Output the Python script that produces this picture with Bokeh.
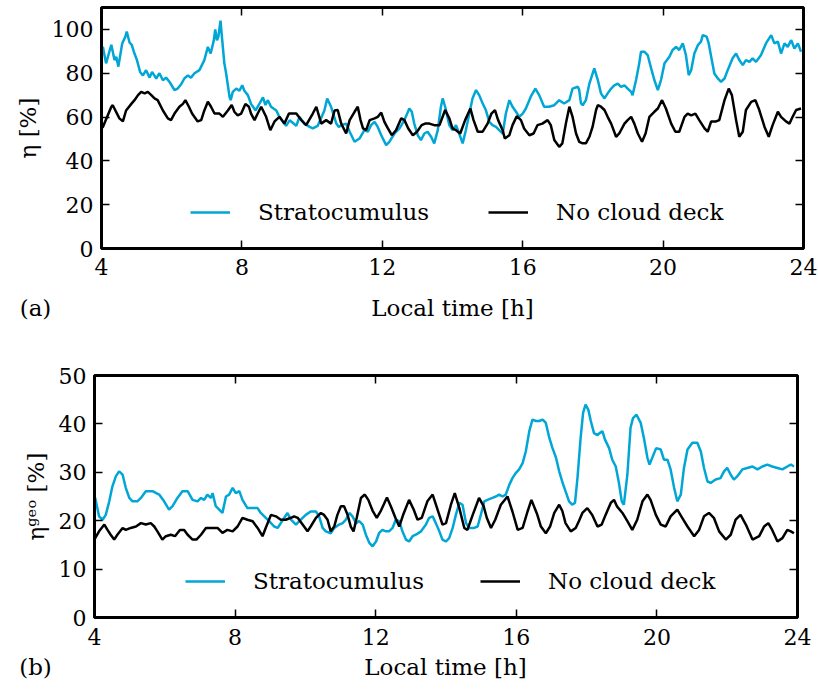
from bokeh.plotting import figure
from bokeh.models import LinearAxis, FixedTicker, Legend, LegendItem, Label, Range1d
from bokeh.layouts import column
from bokeh.embed import file_html
from bokeh.resources import INLINE

# ---------------- data ----------------
x_ticks = [4, 8, 12, 16, 20, 24]
eta_ticks = [0, 20, 40, 60, 80, 100]
geo_ticks = [0, 10, 20, 30, 40, 50]
series_labels = ["Stratocumulus", "No cloud deck"]
x_label = "Local time [h]"

# (a) efficiency eta [%], stratocumulus case
t_sc_a = [4.00, 4.04, 4.13, 4.28, 4.37, 4.42, 4.48, 4.59, 4.68, 4.72, 4.80, 4.86, 4.94, 5.01, 5.10,
          5.18, 5.27, 5.37, 5.44, 5.56, 5.65, 5.75, 5.84, 5.94, 6.08, 6.17, 6.27, 6.36, 6.46, 6.55,
          6.65, 6.79, 6.93, 7.03, 7.11, 7.20, 7.24, 7.29, 7.33, 7.39, 7.44, 7.50, 7.55, 7.65, 7.68,
          7.74, 7.84, 7.93, 8.01, 8.07, 8.17, 8.26, 8.39, 8.48, 8.60, 8.67, 8.74, 8.83, 8.98, 9.07,
          9.26, 9.36, 9.55, 9.64, 9.78, 9.93, 10.02, 10.16, 10.35, 10.43, 10.54, 10.69, 10.76, 10.83,
          10.97, 11.07, 11.21, 11.35, 11.49, 11.59, 11.68, 11.78, 11.87, 11.97, 12.11, 12.20, 12.35,
          12.49, 12.63, 12.77, 12.84, 12.91, 13.01, 13.10, 13.20, 13.29, 13.39, 13.48, 13.58, 13.67,
          13.72, 13.79, 13.91, 14.00, 14.10, 14.19, 14.29, 14.38, 14.48, 14.57, 14.67, 14.76, 14.86,
          14.95, 15.05, 15.14, 15.24, 15.33, 15.43, 15.52, 15.62, 15.71, 15.81, 15.90, 16.00, 16.09,
          16.23, 16.36, 16.47, 16.61, 16.75, 16.90, 17.04, 17.18, 17.33, 17.42, 17.57, 17.61, 17.66,
          17.71, 17.80, 17.90, 18.04, 18.14, 18.23, 18.33, 18.42, 18.52, 18.61, 18.71, 18.80, 18.90,
          18.99, 19.09, 19.13, 19.23, 19.32, 19.37, 19.47, 19.56, 19.66, 19.75, 19.85, 19.94, 20.04,
          20.18, 20.27, 20.37, 20.46, 20.56, 20.65, 20.73, 20.80, 20.89, 20.99, 21.08, 21.13, 21.24,
          21.30, 21.37, 21.46, 21.56, 21.65, 21.75, 21.84, 21.98, 22.08, 22.17, 22.27, 22.36, 22.46,
          22.55, 22.65, 22.79, 22.93, 23.08, 23.17, 23.27, 23.36, 23.46, 23.55, 23.65, 23.74, 23.84,
          23.93]
eta_sc = [91.0, 92.0, 84.5, 93.0, 86.0, 87.5, 83.0, 93.6, 96.7, 99.0, 94.0, 93.0, 89.0, 86.0, 80.6,
          79.0, 81.4, 78.0, 80.6, 77.6, 80.0, 76.8, 78.0, 76.0, 72.3, 73.0, 75.0, 77.6, 79.0, 78.0,
          80.0, 81.4, 86.0, 92.0, 89.0, 95.0, 100.0, 95.0, 96.7, 104.0, 95.0, 84.5, 80.0, 69.0, 67.7,
          71.5, 73.0, 72.0, 74.5, 72.0, 70.0, 66.0, 63.0, 65.5, 69.0, 65.5, 67.7, 64.7, 63.0, 60.0,
          56.0, 58.5, 56.0, 60.0, 57.0, 55.5, 54.8, 56.0, 63.0, 68.5, 64.7, 57.0, 55.5, 56.3,
          57.0, 53.3, 48.7, 50.2, 54.0, 53.3, 56.3, 57.8, 55.5, 51.7, 47.2, 48.7, 52.5,
          54.8, 58.6, 63.9, 62.4, 57.0, 51.7, 49.5, 52.5, 53.3, 51.0, 48.0, 54.0, 64.7,
          68.5, 64.7, 56.3, 54.0, 56.3, 52.5, 48.0, 54.0, 61.6, 68.5, 72.3, 70.0, 66.2,
          63.2, 57.8, 56.3, 55.5, 54.0, 52.5, 61.6, 67.7, 64.7, 62.4, 60.1, 61.6, 63.9,
          69.3, 73.0, 70.0, 64.7, 64.7, 65.4, 67.7, 66.2, 67.7, 73.0, 73.8, 72.3, 66.2,
          65.4, 67.7, 75.3, 82.2, 76.9, 70.8, 68.5, 70.8, 73.0, 74.5, 75.3, 73.8, 74.5,
          73.0, 71.5, 70.0, 76.9, 84.5, 89.8, 89.8, 88.3, 82.2, 76.9, 72.3, 76.9, 84.5,
          87.5, 90.6, 92.0, 90.6, 93.6, 88.3, 79.1, 81.4, 89.0, 92.8, 94.4, 97.4, 96.7,
          93.6, 87.5, 79.9, 77.6, 76.1, 77.6, 81.4, 86.8, 89.0, 86.0, 83.7, 86.0, 85.2,
          86.8, 85.2, 88.3, 93.6, 97.4, 93.6, 94.4, 89.0, 93.6, 92.0, 95.1, 91.3, 93.6,
          89.8]

# (a) efficiency eta [%], no cloud deck
t_nc_a = [4.00, 4.04, 4.28, 4.32, 4.51, 4.61, 4.70, 4.85, 4.94, 5.04, 5.13, 5.23, 5.32, 5.42, 5.51,
          5.60, 5.75, 5.89, 5.98, 6.08, 6.22, 6.32, 6.39, 6.49, 6.58, 6.74, 6.84, 6.93, 7.03, 7.12,
          7.22, 7.36, 7.46, 7.60, 7.71, 7.79, 7.88, 7.98, 8.10, 8.20, 8.26, 8.36, 8.45, 8.55, 8.69,
          8.81, 8.93, 9.07, 9.21, 9.34, 9.55, 9.69, 9.83, 10.02, 10.12, 10.26, 10.40, 10.54, 10.64,
          10.73, 10.83, 10.97, 11.07, 11.21, 11.30, 11.38, 11.45, 11.54, 11.64, 11.78, 11.87, 11.97,
          12.06, 12.16, 12.27, 12.39, 12.54, 12.63, 12.74, 12.87, 12.99, 13.12, 13.22, 13.34, 13.48,
          13.63, 13.79, 13.91, 14.00, 14.10, 14.22, 14.36, 14.51, 14.60, 14.72, 14.86, 15.00, 15.11,
          15.21, 15.30, 15.43, 15.49, 15.62, 15.71, 15.83, 15.95, 16.04, 16.19, 16.31, 16.42, 16.56,
          16.71, 16.80, 16.90, 17.04, 17.13, 17.23, 17.33, 17.42, 17.52, 17.61, 17.71, 17.80, 17.90,
          17.99, 18.09, 18.14, 18.23, 18.33, 18.42, 18.52, 18.66, 18.75, 18.90, 18.99, 19.09, 19.18,
          19.28, 19.40, 19.50, 19.61, 19.75, 19.85, 19.97, 20.08, 20.23, 20.35, 20.46, 20.61, 20.70,
          20.80, 20.92, 21.03, 21.18, 21.27, 21.37, 21.51, 21.60, 21.75, 21.87, 21.96, 22.08, 22.17,
          22.27, 22.36, 22.51, 22.63, 22.74, 22.89, 23.01, 23.12, 23.27, 23.36, 23.50, 23.60, 23.69,
          23.79, 23.93]
eta_nc = [55.0, 55.5, 64.7, 65.4, 59.4, 58.0, 63.0, 66.0, 67.7, 70.0, 71.5, 70.8, 71.5, 70.0, 68.5,
          67.7, 63.0, 59.4, 58.6, 61.6, 64.7, 66.0, 67.7, 64.7, 61.6, 58.0, 58.6, 63.0, 67.0, 64.7,
          61.6, 61.6, 60.1, 63.0, 65.5, 62.3, 60.8, 61.6, 66.0, 64.7, 61.6, 58.6, 61.6, 64.7, 60.1,
          54.0, 58.0, 60.1, 57.0, 61.6, 61.6, 58.6, 56.3, 61.6, 64.7, 57.0, 58.6, 57.0, 63.0,
          63.2, 57.0, 52.5, 58.6, 62.4, 64.7, 58.6, 54.8, 54.0, 58.6, 59.4, 60.1, 62.0,
          57.8, 54.8, 51.7, 54.0, 59.4, 58.6, 54.8, 51.7, 53.3, 56.3, 57.0, 57.0, 56.3,
          56.3, 63.2, 59.4, 54.8, 54.0, 52.5, 58.6, 63.9, 58.6, 53.3, 53.3, 57.0, 61.6,
          63.2, 58.6, 54.0, 50.2, 51.7, 56.3, 60.4, 58.6, 54.8, 51.7, 52.5, 56.3, 57.0,
          58.6, 56.3, 49.5, 46.4, 48.0, 57.0, 64.7, 60.1, 52.5, 48.7, 48.0, 48.0, 51.0,
          55.5, 63.2, 65.4, 64.7, 63.2, 60.1, 57.0, 51.0, 52.5, 57.0, 58.6, 60.1, 57.0,
          52.5, 48.7, 52.5, 60.1, 62.4, 63.9, 67.7, 63.9, 57.0, 53.3, 53.3, 60.1, 61.6,
          60.8, 61.6, 58.6, 54.8, 53.3, 58.0, 58.0, 58.6, 67.7, 73.0, 70.0, 58.6, 51.0,
          53.3, 63.2, 66.9, 67.7, 63.2, 55.5, 51.0, 56.3, 62.4, 60.1, 58.0, 57.0, 60.1,
          63.2, 63.9]

# (b) geometric efficiency eta_geo [%], stratocumulus case
t_sc_b = [4.00, 4.02, 4.13, 4.23, 4.32, 4.42, 4.51, 4.61, 4.70, 4.80, 4.89, 4.99, 5.08, 5.22, 5.32,
          5.46, 5.65, 5.84, 5.98, 6.12, 6.22, 6.36, 6.50, 6.65, 6.79, 6.93, 7.03, 7.12, 7.21, 7.31,
          7.36, 7.45, 7.55, 7.64, 7.74, 7.83, 7.93, 8.02, 8.12, 8.21, 8.35, 8.50, 8.64, 8.73, 8.83,
          8.97, 9.11, 9.21, 9.30, 9.40, 9.49, 9.59, 9.73, 9.87, 10.01, 10.15, 10.30, 10.39, 10.49,
          10.58, 10.72, 10.82, 10.96, 11.06, 11.15, 11.25, 11.34, 11.44, 11.53, 11.63, 11.72, 11.82,
          11.91, 12.01, 12.10, 12.19, 12.29, 12.38, 12.48, 12.57, 12.67, 12.76, 12.86, 12.95, 13.05,
          13.14, 13.29, 13.43, 13.52, 13.62, 13.71, 13.81, 13.90, 14.00, 14.09, 14.19, 14.28, 14.38,
          14.47, 14.57, 14.66, 14.80, 14.90, 14.99, 15.09, 15.18, 15.32, 15.42, 15.51, 15.61, 15.70,
          15.80, 15.89, 15.99, 16.08, 16.18, 16.27, 16.37, 16.46, 16.56, 16.65, 16.75, 16.84, 16.94,
          17.03, 17.13, 17.22, 17.31, 17.40, 17.50, 17.59, 17.67, 17.74, 17.83, 17.90, 17.97, 18.05,
          18.12, 18.21, 18.31, 18.37, 18.45, 18.52, 18.64, 18.73, 18.83, 18.92, 19.00, 19.06, 19.16,
          19.25, 19.32, 19.42, 19.54, 19.63, 19.73, 19.79, 19.89, 19.98, 20.11, 20.20, 20.30, 20.39,
          20.49, 20.58, 20.68, 20.77, 20.87, 21.01, 21.15, 21.25, 21.34, 21.44, 21.53, 21.67, 21.81,
          21.91, 22.00, 22.10, 22.19, 22.29, 22.43, 22.57, 22.72, 22.86, 23.00, 23.14, 23.28, 23.43,
          23.57, 23.71, 23.81, 23.90]
geo_sc = [25.0, 24.7, 20.9, 20.2, 21.2, 24.0, 27.1, 29.2, 30.2, 29.5, 26.8, 24.7, 24.0, 24.0, 24.7,
          26.1, 26.1, 25.4, 24.0, 22.3, 23.0, 24.7, 26.1, 26.1, 24.3, 24.0, 24.7, 24.3, 25.4, 24.7,
          25.7, 23.0, 22.3, 21.6, 25.0, 25.4, 26.8, 25.7, 26.1, 24.3, 22.6, 22.6, 22.6, 21.6, 20.9,
          19.9, 18.8, 18.5, 19.5, 20.6, 21.6, 20.2, 19.2, 20.2, 21.2, 21.9, 21.9, 20.9, 18.5,
          17.8, 17.4, 18.5, 19.2, 19.5, 20.2, 21.6, 20.9, 19.5, 19.9, 19.2, 17.1, 15.4,
          14.7, 15.7, 17.5, 18.1, 17.8, 17.8, 18.5, 20.2, 19.9, 17.8, 16.1, 15.7, 16.8,
          17.1, 17.8, 19.2, 20.6, 20.9, 19.5, 17.8, 16.1, 15.7, 16.4, 18.5, 21.2, 23.7,
          23.3, 19.5, 18.5, 18.5, 18.8, 21.2, 24.0, 24.3, 24.7, 25.0, 25.4, 25.0, 25.4,
          27.4, 28.8, 29.9, 30.6, 31.9, 34.3, 38.5, 40.9, 40.6, 40.6, 40.9, 40.2, 37.1,
          35.0, 33.0, 30.2, 28.0, 26.1, 24.0, 23.3, 23.7, 28.8, 37.1, 42.3, 44.0, 42.9,
          40.6, 38.1, 37.7, 38.1, 38.5, 36.8, 35.0, 32.6, 31.2, 27.8, 24.0, 23.3, 29.5,
          39.2, 41.2, 41.9, 40.2, 37.1, 33.0, 31.6, 33.4, 35.0, 34.7, 32.6, 32.6, 30.6,
          26.8, 24.0, 25.4, 30.9, 34.7, 36.1, 36.1, 34.3, 30.9, 28.1, 27.8, 28.5, 28.8,
          30.2, 30.9, 29.5, 28.5, 29.2, 30.6, 30.9, 31.2, 30.6, 31.2, 31.6, 31.2, 30.9,
          30.6, 31.2, 31.6, 31.2]

# (b) geometric efficiency eta_geo [%], no cloud deck
t_nc_b = [4.00, 4.02, 4.13, 4.28, 4.37, 4.46, 4.56, 4.65, 4.80, 4.89, 5.03, 5.18, 5.32, 5.46, 5.60,
          5.70, 5.79, 5.93, 6.03, 6.17, 6.29, 6.43, 6.55, 6.65, 6.79, 6.90, 7.03, 7.17, 7.36, 7.50,
          7.64, 7.78, 7.93, 8.07, 8.21, 8.35, 8.50, 8.64, 8.78, 8.87, 9.02, 9.16, 9.30, 9.44, 9.59,
          9.68, 9.78, 9.92, 10.06, 10.15, 10.30, 10.44, 10.53, 10.63, 10.72, 10.82, 10.91, 11.01,
          11.10, 11.20, 11.29, 11.37, 11.46, 11.58, 11.69, 11.79, 11.91, 12.03, 12.15, 12.32, 12.43,
          12.56, 12.67, 12.79, 12.95, 13.08, 13.19, 13.31, 13.47, 13.62, 13.76, 13.90, 14.00, 14.14,
          14.25, 14.38, 14.52, 14.61, 14.76, 14.94, 15.07, 15.16, 15.28, 15.40, 15.56, 15.75, 15.89,
          16.04, 16.18, 16.32, 16.43, 16.59, 16.70, 16.84, 16.96, 17.08, 17.22, 17.31, 17.40, 17.55,
          17.69, 17.78, 17.88, 18.02, 18.16, 18.31, 18.43, 18.54, 18.69, 18.78, 18.87, 19.02, 19.16,
          19.30, 19.44, 19.59, 19.73, 19.82, 19.97, 20.11, 20.25, 20.39, 20.58, 20.72, 20.87, 21.06,
          21.20, 21.34, 21.48, 21.62, 21.77, 21.96, 22.10, 22.24, 22.38, 22.53, 22.72, 22.91, 23.05,
          23.17, 23.28, 23.43, 23.57, 23.71, 23.81, 23.90]
geo_nc = [16.0, 16.4, 17.8, 19.2, 18.1, 17.1, 16.1, 17.1, 18.5, 18.1, 18.5, 18.8, 19.5, 19.2, 19.5,
          18.8, 17.8, 16.1, 16.8, 17.1, 16.8, 18.1, 18.1, 17.1, 16.1, 16.1, 17.1, 18.5, 18.5, 18.5,
          17.5, 18.1, 17.8, 18.8, 20.6, 20.2, 19.9, 18.5, 16.8, 18.5, 21.2, 20.9, 20.2, 20.2, 20.6,
          20.9, 20.6, 19.2, 17.8, 18.8, 20.6, 21.6, 21.2, 20.2, 17.8, 18.8, 21.2, 23.0,
          23.0, 21.2, 18.8, 17.8, 20.6, 24.7, 25.4, 24.3, 22.1, 20.6, 22.1, 24.8, 23.0,
          20.6, 18.8, 21.4, 24.3, 22.3, 20.2, 20.6, 24.0, 25.4, 22.3, 19.2, 19.5, 23.3,
          25.7, 22.6, 18.5, 18.1, 21.2, 24.7, 23.0, 20.6, 18.5, 20.2, 23.3, 25.0, 21.9,
          18.1, 18.5, 21.9, 24.3, 21.4, 18.8, 17.4, 18.8, 21.6, 23.3, 22.0, 19.5, 17.8,
          18.5, 19.9, 21.6, 22.6, 21.2, 18.8, 19.2, 21.2, 23.7, 24.3, 22.9, 21.6, 19.9,
          18.1, 20.2, 24.0, 25.4, 24.3, 21.2, 19.2, 18.8, 20.9, 22.3, 20.6, 18.8, 16.8,
          18.1, 20.9, 21.6, 20.6, 17.8, 16.1, 17.1, 20.2, 21.2, 19.2, 16.1, 16.8, 18.8,
          19.5, 18.1, 15.7, 16.4, 18.1, 17.8, 17.4]

# ---------------- styling ----------------
BLUE = "#00a6d6"
BLACK = "#000000"
SERIF = "DejaVu Serif"
TICK_SIZE = "22px"
LABEL_SIZE = "23px"
WIDTH = 818


def style_panel(p, y_ticks, y_label, y_label_standoff, x_tick_standoff):
    p.xgrid.grid_line_color = None
    p.ygrid.grid_line_color = None
    p.outline_line_color = BLACK
    p.outline_line_width = 3
    p.outline_line_alpha = 1.0
    p.background_fill_color = "white"
    p.border_fill_color = "white"

    p.xaxis.ticker = FixedTicker(ticks=x_ticks)
    p.yaxis.ticker = FixedTicker(ticks=y_ticks)
    for ax in (p.xaxis[0], p.yaxis[0]):
        ax.major_tick_in = 8
        ax.major_tick_out = 0
        ax.major_tick_line_width = 1.5
        ax.major_tick_line_color = BLACK
        ax.minor_tick_line_color = None
        ax.axis_line_color = BLACK
        ax.axis_line_width = 3
        ax.major_label_text_font = SERIF
        ax.major_label_text_font_size = TICK_SIZE
        ax.major_label_text_color = BLACK
        ax.axis_label_text_font = SERIF
        ax.axis_label_text_font_size = LABEL_SIZE
        ax.axis_label_text_font_style = "normal"
        ax.axis_label_text_color = BLACK
        ax.major_label_standoff = 8
    p.xaxis.major_label_standoff = x_tick_standoff
    p.yaxis.axis_label = y_label
    p.yaxis.axis_label_standoff = y_label_standoff

    # inward ticks mirrored on the top and right edges
    top = LinearAxis(ticker=FixedTicker(ticks=x_ticks))
    right = LinearAxis(ticker=FixedTicker(ticks=y_ticks))
    for ax in (top, right):
        ax.major_tick_in = 8
        ax.major_tick_out = 0
        ax.major_tick_line_width = 1.5
        ax.minor_tick_line_color = None
        ax.axis_line_color = None
        ax.major_label_text_font_size = "0px"
        ax.major_label_text_color = None
        ax.major_label_standoff = 0
    p.add_layout(top, "above")
    p.add_layout(right, "right")


def add_legends(p, r_sc, r_nc, x_sc, x_nc, y):
    for r, name, x in ((r_sc, series_labels[0], x_sc), (r_nc, series_labels[1], x_nc)):
        leg = Legend(items=[LegendItem(label=name, renderers=[r])],
                     location=(x, y), orientation="horizontal",
                     border_line_color=None, background_fill_alpha=0,
                     padding=0, margin=0, spacing=0,
                     glyph_width=40, glyph_height=20, label_height=20,
                     label_standoff=28,
                     label_text_font=SERIF, label_text_font_size=LABEL_SIZE,
                     label_text_color=BLACK)
        p.add_layout(leg, "center")


def caption_strip(height, tag, tag_x, label_x, y):
    # strip under a panel carrying its tag and the x-axis title
    s = figure(width=WIDTH, height=height, x_range=Range1d(0, 1), y_range=Range1d(0, 1),
               output_backend="svg", toolbar_location=None, frame_align=False,
               x_axis_type=None, y_axis_type=None, min_border=0)
    s.outline_line_color = None
    s.background_fill_color = "white"
    s.border_fill_color = "white"
    for text, x in ((tag, tag_x), (x_label, label_x)):
        s.add_layout(Label(x=x, y=y, x_units="screen", y_units="screen", text=text,
                           text_font=SERIF, text_font_size=LABEL_SIZE, text_color=BLACK,
                           text_align="center", text_baseline="middle"))
    return s


# ---------------- panel (a) ----------------
pa = figure(width=WIDTH, height=290, x_range=Range1d(4, 24), y_range=Range1d(0, 110),
            output_backend="svg", toolbar_location=None, frame_align=False,
            min_border_left=101, min_border_right=15, min_border_top=7, min_border_bottom=42)
style_panel(pa, eta_ticks, "η [%]", 8, 10)
ra_sc = pa.line(t_sc_a, eta_sc, line_color=BLUE, line_width=2.5)
ra_nc = pa.line(t_nc_a, eta_nc, line_color=BLACK, line_width=2.5)
add_legends(pa, ra_sc, ra_nc, 89, 387, 23)
cap_a = caption_strip(50, "(a)", 35, 452, 33)

# ---------------- panel (b) ----------------
pb = figure(width=WIDTH, height=311, x_range=Range1d(4, 24), y_range=Range1d(0, 50),
            output_backend="svg", toolbar_location=None, frame_align=False,
            min_border_left=94, min_border_right=21, min_border_top=35, min_border_bottom=34)
style_panel(pb, geo_ticks, "ηᵍᵉᵒ [%]", 7, 11)
rb_sc = pb.line(t_sc_b, geo_sc, line_color=BLUE, line_width=2.5)
rb_nc = pb.line(t_nc_b, geo_nc, line_color=BLACK, line_width=2.5)
add_legends(pb, rb_sc, rb_nc, 91, 386, 23)
cap_b = caption_strip(44, "(b)", 35, 445, 29)

layout = column(pa, cap_a, pb, cap_b, spacing=0)
open("out.html", "w").write(file_html(layout, INLINE))
